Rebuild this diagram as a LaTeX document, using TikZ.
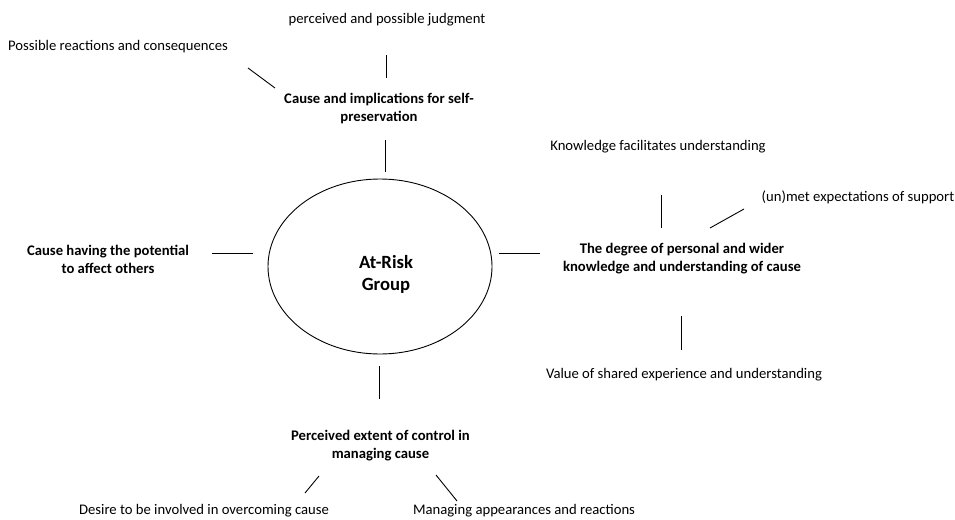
\documentclass[tikz,border=0pt]{standalone}
\usepackage{fontspec}
\setmainfont{Carlito}
\usetikzlibrary{shapes.geometric}
\begin{document}
\begin{tikzpicture}[x=1pt,y=-1pt,
  theme/.style={font=\fontsize{14.67}{18}\selectfont\bfseries, align=center, inner sep=0pt},
  sub/.style={font=\fontsize{14.67}{18}\selectfont, inner sep=0pt, anchor=base},
  core/.style={draw, ellipse, line width=0.9pt, minimum width=224pt, minimum height=175pt, inner sep=0pt},
  corelabel/.style={align=center, inner sep=0pt, font=\fontsize{18.67}{22}\selectfont\bfseries},
  link/.style={line width=0.9pt}]
\useasboundingbox (0,0) rectangle (955,519);

% central group
\node[core] (group) at (380,266.5) {};
\node[corelabel] (grouplabel) at (386,274.5) {At-Risk\\Group};

% themes around the centre
\node[theme] (self) at (379,108.5) {Cause and implications for self-\\preservation};
\node[theme] (others) at (108,259.5) {Cause having the potential\\to affect others};
\node[theme] (know) at (682,258.5) {The degree of personal and wider\\knowledge and understanding of cause};
\node[theme] (control) at (380.5,446) {Perceived extent of control in\\managing cause};

% sub-themes (placed on their baselines)
\node[sub] (judg) at (387,24) {perceived and possible judgment};
\node[sub] (react) at (118,50.5) {Possible reactions and consequences};
\node[sub] (facil) at (658,150) {Knowledge facilitates understanding};
\node[sub] (expect) at (858,201) {(un)met expectations of support};
\node[sub] (shared) at (684,378.5) {Value of shared experience and understanding};
\node[sub] (desire) at (204,514.5) {Desire to be involved in overcoming cause};
\node[sub] (appear) at (524,514.5) {Managing appearances and reactions};

% free-standing connector ends
\coordinate (s1a) at (385,140); \coordinate (s1b) at (385,172);
\coordinate (o1a) at (212,253); \coordinate (o1b) at (253,253);
\coordinate (k1a) at (499,253); \coordinate (k1b) at (540,253);
\coordinate (c1a) at (379,366); \coordinate (c1b) at (379,399);
\coordinate (j1a) at (386,55);  \coordinate (j1b) at (386,78);
\coordinate (r1a) at (248,68);  \coordinate (r1b) at (275,88);
\coordinate (f1a) at (661,195); \coordinate (f1b) at (661,228);
\coordinate (e1a) at (710,228); \coordinate (e1b) at (744,209);
\coordinate (v1a) at (681,316); \coordinate (v1b) at (681,350);
\coordinate (d1a) at (319,476); \coordinate (d1b) at (305,493);
\coordinate (m1a) at (436,475); \coordinate (m1b) at (457,501);

\foreach \a/\b in {s1a/s1b,o1a/o1b,k1a/k1b,c1a/c1b,j1a/j1b,r1a/r1b,f1a/f1b,e1a/e1b,v1a/v1b,d1a/d1b,m1a/m1b}
  \draw[link] (\a) -- (\b);
\end{tikzpicture}
\end{document}
